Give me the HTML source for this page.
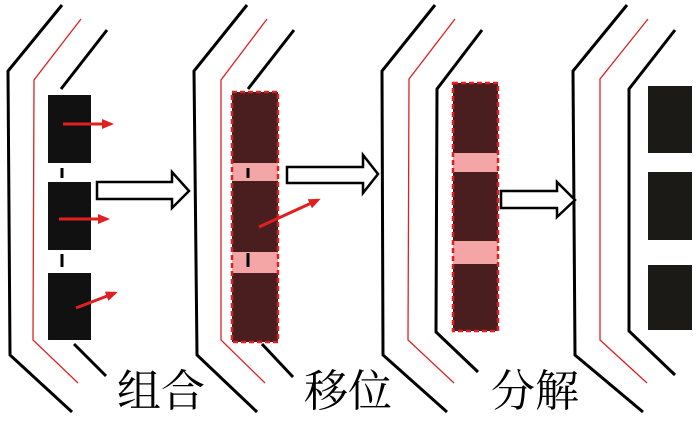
<!DOCTYPE html>
<html><head><meta charset="utf-8"><style>
html,body{margin:0;padding:0;background:#fff;width:700px;height:423px;overflow:hidden}
</style></head><body>
<svg width="700" height="423" viewBox="0 0 700 423" xmlns="http://www.w3.org/2000/svg">
<defs>
<marker id="ah" markerWidth="12" markerHeight="10" refX="9" refY="5" orient="auto" markerUnits="userSpaceOnUse">
<path d="M0,0 L12,5 L0,10 Z" fill="#e02020"/></marker>
</defs>
<g fill="none" stroke-linejoin="miter">
<polyline points="62,5 8,71 10,355 72,412" stroke="#000" stroke-width="3"/>
<polyline points="81,19 34,80 33,340 78,383" stroke="#e02020" stroke-width="1.3"/>
<polyline points="107,30 61,89" stroke="#000" stroke-width="3"/>
<polyline points="74,344 106,376" stroke="#000" stroke-width="3"/>
<polyline points="247,5 194,71 197,355 257,412" stroke="#000" stroke-width="3"/>
<polyline points="267,19 221,80 221,340 265,383" stroke="#e02020" stroke-width="1.3"/>
<polyline points="294,30 248,89" stroke="#000" stroke-width="3"/>
<polyline points="262,344 293,377" stroke="#000" stroke-width="3"/>
<polyline points="435,5 382,71 383,355 447,412" stroke="#000" stroke-width="3"/>
<polyline points="455,19 409,79 408,340 454,383" stroke="#e02020" stroke-width="1.3"/>
<polyline points="482,30 437,89 436,332 478,372" stroke="#000" stroke-width="3"/>
<polyline points="627,5 573,71 575,355 643,412" stroke="#000" stroke-width="3"/>
<polyline points="648,19 600,79 600,340 647,383" stroke="#e02020" stroke-width="1.3"/>
<polyline points="675,30 629,89 629,331 675,375" stroke="#000" stroke-width="3"/>
</g>
<rect x="48" y="95" width="43" height="68" fill="#111"/>
<rect x="48" y="182" width="43" height="68" fill="#111"/>
<rect x="48" y="273" width="43" height="67" fill="#111"/>
<line x1="62" y1="168" x2="62" y2="178" stroke="#000" stroke-width="3"/>
<line x1="62" y1="254" x2="62" y2="267" stroke="#000" stroke-width="3"/>
<rect x="232" y="92" width="46" height="250" fill="#4a1e1e"/>
<rect x="232" y="163" width="46" height="18" fill="#f4a6a6"/>
<rect x="232" y="252" width="46" height="21" fill="#f4a6a6"/>
<rect x="232" y="92" width="46" height="250" fill="none" stroke="#e02020" stroke-width="2.5" stroke-dasharray="5,3"/>
<line x1="248" y1="168" x2="248" y2="178" stroke="#000" stroke-width="3"/>
<line x1="248" y1="253" x2="248" y2="267" stroke="#000" stroke-width="3"/>
<g stroke="#e02020" stroke-width="3" marker-end="url(#ah)">
<line x1="63" y1="124" x2="111" y2="124"/>
<line x1="59" y1="219" x2="107" y2="219"/>
<line x1="76" y1="308" x2="115" y2="293"/>
<line x1="259" y1="227" x2="318" y2="200"/>
</g>
<rect x="453" y="83" width="45" height="248" fill="#4a1e1e"/>
<rect x="453" y="153" width="45" height="19" fill="#f4a6a6"/>
<rect x="453" y="241" width="45" height="23" fill="#f4a6a6"/>
<rect x="453" y="83" width="45" height="248" fill="none" stroke="#e02020" stroke-width="2.5" stroke-dasharray="5,3"/>
<rect x="648" y="86" width="44" height="67" fill="#1c1a17"/>
<rect x="648" y="172" width="44" height="68" fill="#1c1a17"/>
<rect x="648" y="265" width="44" height="65" fill="#1c1a17"/>
<g fill="#fff" stroke="#000" stroke-width="2.5" stroke-linejoin="miter">
<polygon points="97,182 172,182 172,172 189,191 172,208 172,199 97,199"/>
<polygon points="287,167 363,167 363,155 378,174 363,193 363,183 287,183"/>
<polygon points="501,191 557,191 557,182 575,200 557,217 557,208 501,208"/>
</g>
<g font-family="'Noto Serif CJK SC','Liberation Serif',serif" font-size="44" fill="#000">
<text x="117" y="406">组合</text>
<text x="304" y="406">移位</text>
<text x="491" y="406">分解</text>
</g>
</svg>
</body></html>
